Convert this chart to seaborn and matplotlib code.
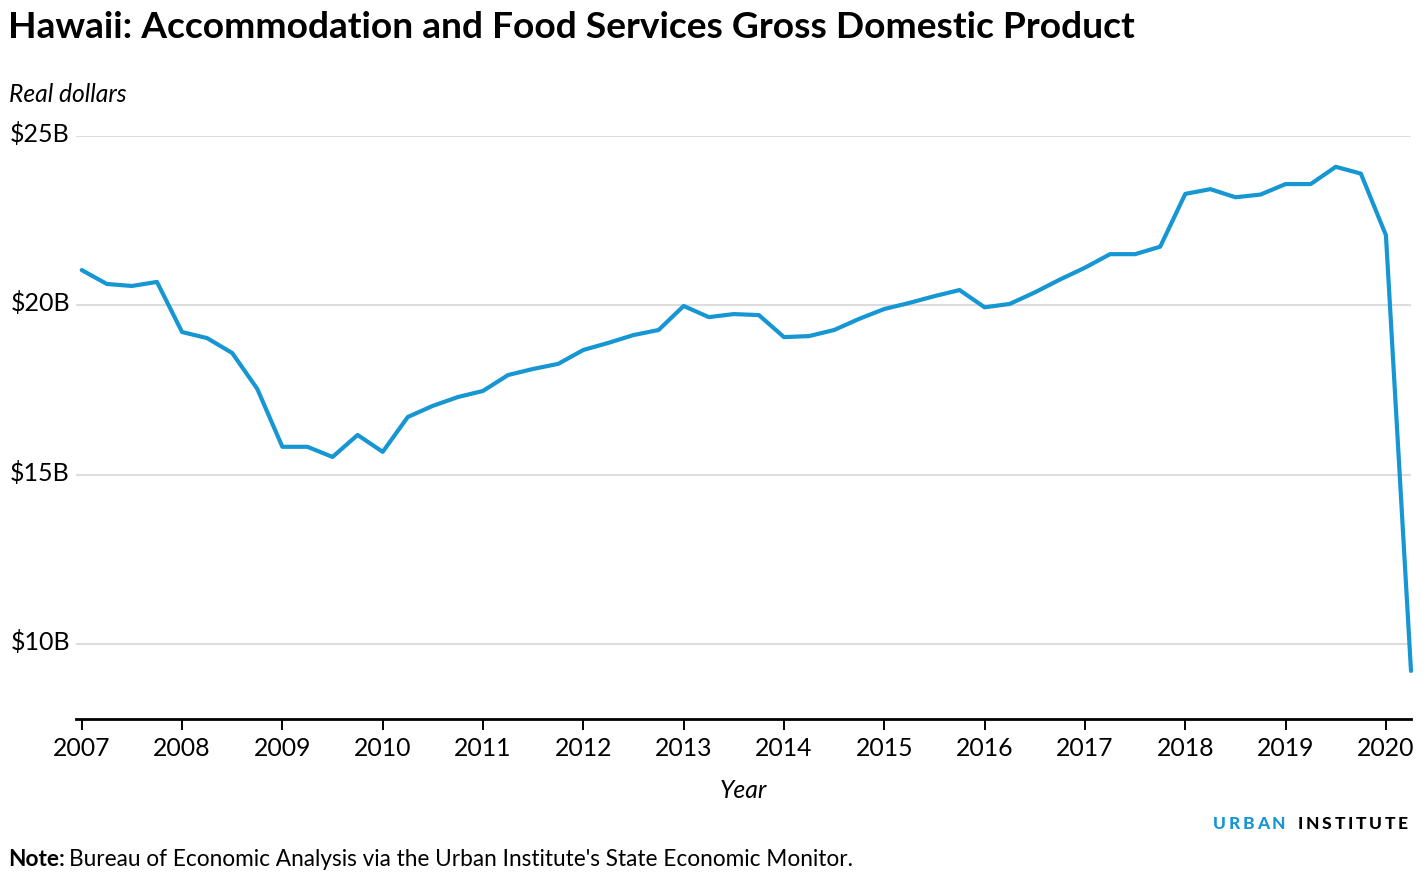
import pandas as pd
import numpy as np
import matplotlib.pyplot as plt
import matplotlib.transforms as mtransforms
import seaborn as sns

# Quarterly real GDP, accommodation and food services, Hawaii (billions)
quarters = pd.period_range('2007Q1', '2020Q2', freq='Q')
gdp = [21.04, 20.63, 20.57, 20.69,
       19.21, 19.03, 18.59, 17.53,
       15.82, 15.82, 15.52, 16.17,
       15.67, 16.70, 17.03, 17.29,
       17.47, 17.94, 18.12, 18.27,
       18.68, 18.89, 19.12, 19.27,
       19.98, 19.65, 19.74, 19.71,
       19.06, 19.09, 19.27, 19.60,
       19.89, 20.07, 20.27, 20.45,
       19.94, 20.04, 20.38, 20.76,
       21.11, 21.51, 21.51, 21.73,
       23.29, 23.43, 23.19, 23.27,
       23.58, 23.58, 24.09, 23.89,
       22.07, 9.20]
year_ticks = list(range(2007, 2021))
y_ticks = [10, 15, 20, 25]
y_labels = ['$10B', '$15B', '$20B', '$25B']

df = pd.DataFrame({
    'year': quarters.year + (quarters.quarter - 1) / 4,
    'gdp': gdp,
})

sns.set_theme(style='white')
plt.rcParams['font.family'] = ['Lato', 'DejaVu Sans']
plt.rcParams['text.color'] = 'black'
plt.rcParams['axes.labelcolor'] = 'black'

blue = '#1696d2'
W, H = 1428, 893
fig = plt.figure(figsize=(W / 100, H / 100), dpi=100)
ax = fig.add_axes([76 / W, 1 - 719 / H, 1335 / W, (719 - 136) / H])

sns.lineplot(data=df, x='year', y='gdp', ax=ax, color=blue, linewidth=3,
             clip_on=False)

ax.set_xlim(2007 - 0.057, 2020.25)
ax.set_ylim(7.78, 25.0)
ax.set_yticks(y_ticks)
ax.set_yticklabels(y_labels, fontsize=18, color='black')
ax.set_xticks(year_ticks)
ax.set_xticklabels([str(y) for y in year_ticks], fontsize=17.8, color='black')

ax.yaxis.grid(True, color='#dedddd', linewidth=1.5)
ax.xaxis.grid(False)
ax.set_axisbelow(True)
for side in ['top', 'right', 'left']:
    ax.spines[side].set_visible(False)
ax.spines['bottom'].set_color('black')
ax.spines['bottom'].set_linewidth(2)
ax.tick_params(axis='x', bottom=True, length=8, width=1.4, color='black', pad=5)
ax.tick_params(axis='y', left=False, length=0, pad=4.3)
# y labels sit a little above their gridlines
shift = mtransforms.ScaledTranslation(0, 4 / 100, fig.dpi_scale_trans)
for lab in ax.get_yticklabels():
    lab.set_transform(lab.get_transform() + shift)
ax.set_xlabel('Year', fontsize=17.8, fontstyle='italic', labelpad=14)
ax.set_ylabel('')

fig.text(8 / W, 1 - 27 / H, 'Hawaii: Accommodation and Food Services Gross Domestic Product',
         fontsize=26.7, fontweight='bold', va='center', ha='left')
fig.text(9 / W, 1 - 94 / H, 'Real dollars', fontsize=17.7, fontstyle='italic',
         va='center', ha='left')
note = fig.text(8 / W, 1 - 860 / H, 'Note:', fontsize=16.3, fontweight='bold',
                va='center', ha='left')
fig.canvas.draw()
r = fig.canvas.get_renderer()
nb = note.get_window_extent(r)
fig.text((nb.x1 + 4) / W, 1 - 860 / H,
         "Bureau of Economic Analysis via the Urban Institute's State Economic Monitor.",
         fontsize=16.3, va='center', ha='left')

# letter-spaced logo, laid out right to left
logo = [('URBAN', blue), (' ', 'black'), ('INSTITUTE', 'black')]
chars = [(c, col) for word, col in logo for c in word]
x = 1408
spacing = 2.8
for c, col in reversed(chars):
    if c == ' ':
        x -= 9
        continue
    t = fig.text(x / W, 1 - 824 / H, c, fontsize=12.5, fontweight='black',
                 color=col, va='center', ha='right')
    w = t.get_window_extent(r).width
    x -= w + spacing

fig.savefig('out.png', dpi=100)
